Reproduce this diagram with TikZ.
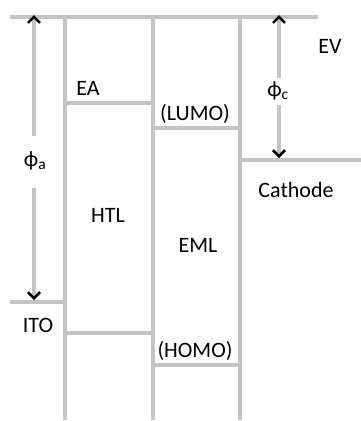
\documentclass[tikz,border=0pt]{standalone}
\usepackage{fontspec}
\setmainfont{Carlito}
\usetikzlibrary{arrows.meta}
\definecolor{lvlgray}{HTML}{C4C4C4}
\begin{document}
\begin{tikzpicture}[x=1pt,y=-1pt,
  lvl/.style={draw=lvlgray,line width=3.2pt},
  arr/.style={draw=lvlgray,line width=3.2pt,-{Straight Barb[length=6pt,width=12pt,line width=2.6pt,color=black]}},
  lbl/.style={font=\fontsize{22}{26}\selectfont,inner sep=0pt}]
\useasboundingbox (0,0) rectangle (361,421);
% coordinates
\coordinate (evL) at (10,17);
\coordinate (evR) at (318,17);
\coordinate (v1t) at (65,17);
\coordinate (v1b) at (65,420);
\coordinate (v2t) at (153,17);
\coordinate (v2b) at (153,420);
\coordinate (v3t) at (240,17);
\coordinate (v3b) at (240,420);
\coordinate (eaL) at (65,103);
\coordinate (eaR) at (153,103);
\coordinate (luL) at (153,128);
\coordinate (luR) at (240,128);
\coordinate (caL) at (240,160);
\coordinate (caR) at (361,160);
\coordinate (itoL) at (10,302);
\coordinate (itoR) at (65,302);
\coordinate (hhL) at (65,333);
\coordinate (hhR) at (153,333);
\coordinate (hoL) at (153,365);
\coordinate (hoR) at (240,365);
% levels
\draw[lvl] (evL) -- (evR);
\draw[lvl] (v1t) -- (v1b);
\draw[lvl] (v2t) -- (v2b);
\draw[lvl] (v3t) -- (v3b);
\draw[lvl] (eaL) -- (eaR);
\draw[lvl] (luL) -- (luR);
\draw[lvl] (caL) -- (caR);
\draw[lvl] (itoL) -- (itoR);
\draw[lvl] (hhL) -- (hhR);
\draw[lvl] (hoL) -- (hoR);
% phi arrows
\node[lbl] (phia) at (35,161) {ϕ\textsubscript{a}};
\node[lbl] (phic) at (278,91) {ϕ\textsubscript{c}};
\coordinate (phiaT) at (34,15);
\coordinate (phiaB) at (34,300);
\coordinate (phicT) at (279,15);
\coordinate (phicB) at (279,158);
\coordinate (phiaU) at (34,136);
\coordinate (phiaD) at (34,188);
\coordinate (phicU) at (279,78);
\coordinate (phicD) at (279,105);
\draw[arr] (phiaU) -- (phiaT);
\draw[arr] (phiaD) -- (phiaB);
\draw[arr] (phicU) -- (phicT);
\draw[arr] (phicD) -- (phicB);
% labels
\node[lbl] (ea) at (88,88) {EA};
\node[lbl] (lumo) at (195,114) {(LUMO)};
\node[lbl] (ev) at (330,46) {EV};
\node[lbl] (cath) at (296,190) {Cathode};
\node[lbl] (htl) at (108,215) {HTL};
\node[lbl] (eml) at (198,245) {EML};
\node[lbl] (ito) at (38,325) {ITO};
\node[lbl] (homo) at (195,351) {(HOMO)};
\end{tikzpicture}
\end{document}
